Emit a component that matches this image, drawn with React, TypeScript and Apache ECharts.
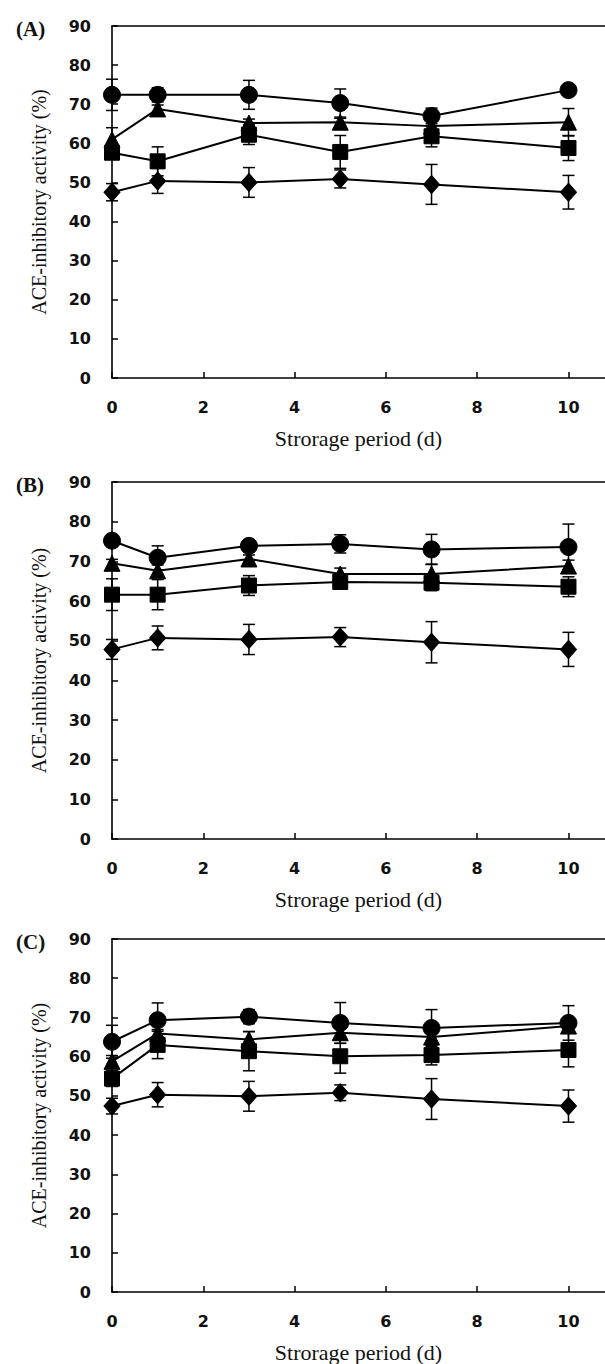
import React, { useEffect, useRef } from "react";
import * as echarts from "echarts";

const days = [0, 1, 3, 5, 7, 10];
const xTickLabels = ["0", "2", "4", "6", "8", "10"];
const panelLabels = ["(A)", "(B)", "(C)"];

// Panel A
const aCircle = [72.4, 72.4, 72.4, 70.3, 67.0, 73.6];
const aCircleErr = [4.0, 1.8, 3.7, 3.6, 2.0, 1.0];
const aTriangle = [61.0, 68.8, 65.2, 65.4, 64.4, 65.4];
const aTriangleErr = [3.0, 1.0, 1.0, 1.0, 1.5, 3.5];
const aSquare = [57.6, 55.4, 62.2, 57.8, 61.8, 58.8];
const aSquareErr = [1.5, 3.7, 2.5, 4.2, 2.7, 3.2];
const aDiamond = [47.5, 50.4, 50.0, 50.9, 49.5, 47.5];
const aDiamondErr = [2.2, 3.2, 3.8, 2.3, 5.1, 4.3];

// Panel B
const bCircle = [75.2, 70.9, 73.9, 74.4, 73.0, 73.6];
const bCircleErr = [1.0, 3.0, 1.0, 2.3, 3.8, 5.8];
const bTriangle = [69.5, 67.6, 70.6, 66.8, 66.8, 68.8];
const bTriangleErr = [1.0, 1.5, 1.0, 1.5, 2.5, 1.5];
const bSquare = [61.6, 61.6, 63.9, 64.8, 64.6, 63.6];
const bSquareErr = [4.0, 3.8, 2.5, 1.0, 2.0, 2.5];
const bDiamond = [47.8, 50.7, 50.3, 50.9, 49.6, 47.8];
const bDiamondErr = [2.5, 3.0, 3.8, 2.4, 5.2, 4.3];

// Panel C
const cCircle = [63.8, 69.3, 70.2, 68.6, 67.3, 68.6];
const cCircleErr = [4.2, 4.4, 1.8, 5.2, 4.7, 4.4];
const cTriangle = [58.8, 65.9, 64.4, 66.1, 65.0, 67.8];
const cTriangleErr = [1.5, 1.0, 2.0, 2.7, 1.5, 1.5];
const cSquare = [54.4, 63.0, 61.4, 60.1, 60.4, 61.7];
const cSquareErr = [2.0, 3.5, 5.0, 4.3, 2.5, 4.3];
const cDiamond = [47.4, 50.3, 49.9, 50.8, 49.2, 47.4];
const cDiamondErr = [2.0, 3.1, 3.8, 2.0, 5.2, 4.1];

const panels = [
  { circle: aCircle, circleErr: aCircleErr, triangle: aTriangle, triangleErr: aTriangleErr, square: aSquare, squareErr: aSquareErr, diamond: aDiamond, diamondErr: aDiamondErr },
  { circle: bCircle, circleErr: bCircleErr, triangle: bTriangle, triangleErr: bTriangleErr, square: bSquare, squareErr: bSquareErr, diamond: bDiamond, diamondErr: bDiamondErr },
  { circle: cCircle, circleErr: cCircleErr, triangle: cTriangle, triangleErr: cTriangleErr, square: cSquare, squareErr: cSquareErr, diamond: cDiamond, diamondErr: cDiamondErr },
];

const W = 605;
const H = 1364;
const gridTops = [26, 482, 939];
const gridHs = [352, 357, 355];
const gridLeft = 112;
const xMax = 10.8;

export default function App() {
  const ref = useRef<HTMLDivElement>(null);
  useEffect(() => {
    if (!ref.current) return;
    const chart = echarts.init(ref.current, null, { renderer: "svg", width: W, height: H });
    const grids: any[] = [];
    const xAxes: any[] = [];
    const yAxes: any[] = [];
    const series: any[] = [];
    const titles: any[] = [];
    const axisLineStyle = { color: "#000", width: 1.6 };
    const tickFont = { fontFamily: "DejaVu Sans", fontWeight: "bold", fontSize: 16, color: "#111" };

    const errRender = (params: any, api: any) => {
      const x = api.value(0);
      const y = api.value(1);
      const e = api.value(2);
      const hi = api.coord([x, y + e]);
      const lo = api.coord([x, y - e]);
      const cap = 6;
      const st = { stroke: "#000", lineWidth: 1.5 };
      return {
        type: "group",
        children: [
          { type: "line", shape: { x1: hi[0], y1: hi[1], x2: lo[0], y2: lo[1] }, style: st },
          { type: "line", shape: { x1: hi[0] - cap, y1: hi[1], x2: hi[0] + cap, y2: hi[1] }, style: st },
          { type: "line", shape: { x1: lo[0] - cap, y1: lo[1], x2: lo[0] + cap, y2: lo[1] }, style: st },
        ],
      };
    };

    panels.forEach((p, i) => {
      grids.push({ left: gridLeft, top: gridTops[i], width: W - gridLeft, height: gridHs[i] });
      xAxes.push({
        type: "value",
        gridIndex: i,
        min: 0,
        max: xMax,
        interval: 2,
        name: "Strorage period (d)",
        nameLocation: "middle",
        nameGap: 49,
        nameTextStyle: { fontFamily: "Liberation Serif", fontSize: 22, color: "#111" },
        axisLine: { show: true, lineStyle: axisLineStyle },
        axisTick: { show: true, inside: true, length: 6, lineStyle: { color: "#000", width: 1.5 } },
        axisLabel: {
          ...tickFont,
          margin: 21,
          showMaxLabel: false,
          formatter: (v: number) => (xTickLabels.includes(String(v)) ? String(v) : ""),
        },
        splitLine: { show: false },
      });
      xAxes.push({
        type: "value",
        gridIndex: i,
        position: "top",
        min: 0,
        max: xMax,
        axisLine: { show: true, lineStyle: axisLineStyle },
        axisTick: { show: false },
        axisLabel: { show: false },
        splitLine: { show: false },
      });
      yAxes.push({
        type: "value",
        gridIndex: i,
        min: 0,
        max: 90,
        interval: 10,
        name: "ACE-inhibitory activity (%)",
        nameLocation: "middle",
        nameGap: 63,
        nameTextStyle: { fontFamily: "Liberation Serif", fontSize: 20, color: "#111" },
        axisLine: { show: true, lineStyle: axisLineStyle },
        axisTick: { show: true, inside: true, length: 6, lineStyle: { color: "#000", width: 1.5 } },
        axisLabel: { ...tickFont, margin: 21 },
        splitLine: { show: false },
      });
      titles.push({
        text: panelLabels[i],
        left: 11,
        top: gridTops[i] - 13,
        textStyle: { fontFamily: "Liberation Serif", fontWeight: "bold", fontSize: 21, color: "#111" },
      });

      const groups = [
        { vals: p.circle, errs: p.circleErr, symbol: "circle", size: 17 },
        { vals: p.triangle, errs: p.triangleErr, symbol: "triangle", size: 16 },
        { vals: p.square, errs: p.squareErr, symbol: "rect", size: 15 },
        { vals: p.diamond, errs: p.diamondErr, symbol: "diamond", size: [16, 18] },
      ];
      groups.forEach((g) => {
        series.push({
          type: "custom",
          xAxisIndex: i * 2,
          yAxisIndex: i,
          renderItem: errRender,
          encode: { x: 0, y: 1 },
          data: days.map((d, k) => [d, g.vals[k], g.errs[k]]),
          z: 1,
          silent: true,
        });
        series.push({
          type: "line",
          xAxisIndex: i * 2,
          yAxisIndex: i,
          data: days.map((d, k) => [d, g.vals[k]]),
          symbol: g.symbol,
          symbolSize: g.size,
          showAllSymbol: true,
          lineStyle: { color: "#000", width: 2 },
          itemStyle: { color: "#000", borderColor: "#000" },
          z: 3,
        });
      });
    });

    chart.setOption({
      animation: false,
      backgroundColor: "#fff",
      title: titles,
      grid: grids,
      xAxis: xAxes,
      yAxis: yAxes,
      series,
    });
    return () => chart.dispose();
  }, []);
  return <div ref={ref} style={{ position: "absolute", left: 0, top: 0, width: W, height: H }} />;
}
